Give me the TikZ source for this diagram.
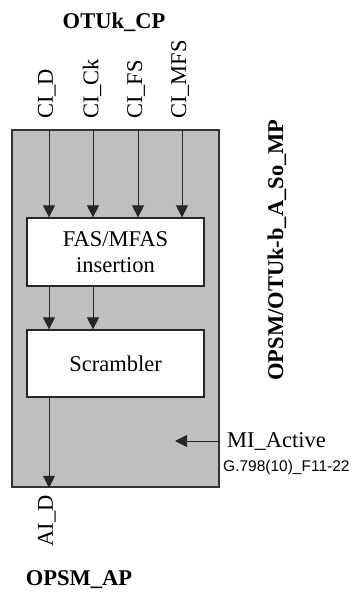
\documentclass[tikz,border=0pt]{standalone}
\usepackage{fontspec}
\setmainfont{Liberation Serif}
\newfontfamily\helvfont{Liberation Sans}
\usetikzlibrary{arrows.meta, positioning}

\begin{document}
\begin{tikzpicture}[
        x=1pt, y=-1pt,
        font=\fontsize{22.5}{26}\selectfont,
        frame/.style={rectangle, draw=black!80, line width=1.5pt, fill=black!25, minimum width=207pt, minimum height=357pt, inner sep=0pt},
        box/.style={rectangle, draw=black!85, line width=1.2pt, fill=white, align=center, minimum width=177pt, minimum height=68pt, inner sep=0pt},
        sig/.style={rotate=90, inner sep=0pt},
        title/.style={font=\fontsize{22.5}{26}\selectfont\bfseries, inner sep=0pt},
        arrow/.style={-{Triangle[length=12pt, width=12pt]}, line width=0.9pt, draw=black!85}
    ]
        \useasboundingbox (0,0) rectangle (354,593);

        \node[frame] (frame) at (115.5,308.5) {};
        \node[box] (fas) at (115.5,252) {FAS/MFAS\\insertion};
        \node[box, minimum height=67pt] (scr) at (115.5,363.5) {Scrambler};

        \node[title] (cp) at (114,22) {OTUk\_CP};
        \node[title] (ap) at (79,580) {OPSM\_AP};
        \node[title, rotate=90] (mp) at (277,250) {OPSM/OTUk-b\_A\_So\_MP};

        % input signals
        \node[sig, anchor=west] (cid) at (47,119) {CI\_D};
        \node[sig, anchor=west] (cick) at (92,119) {CI\_Ck};
        \node[sig, anchor=west] (cifs) at (136,119) {CI\_FS};
        \node[sig, anchor=west] (cimfs) at (180,119) {CI\_MFS};
        \node[sig, anchor=east] (aid) at (47,495) {AI\_D};

        \node[anchor=west, inner sep=0pt] (mi) at (227,441) {MI\_Active};
        \node[anchor=west, inner sep=0pt, font=\helvfont\fontsize{15.5}{18}\selectfont] (fig) at (223,467) {G.798(10)\_F11-22};
        \coordinate (mitip) at (175,441);

        \draw[arrow] ([xshift=2pt]cid.west |- frame.north) -- ([xshift=2pt]cid.west |- fas.north);
        \draw[arrow] ([xshift=1pt]cick.west |- frame.north) -- ([xshift=1pt]cick.west |- fas.north);
        \draw[arrow] ([xshift=2pt]cifs.west |- frame.north) -- ([xshift=2pt]cifs.west |- fas.north);
        \draw[arrow] ([xshift=2pt]cimfs.west |- frame.north) -- ([xshift=2pt]cimfs.west |- fas.north);
        \draw[arrow] ([xshift=2pt]cid.west |- fas.south) -- ([xshift=2pt]cid.west |- scr.north);
        \draw[arrow] ([xshift=1pt]cick.west |- fas.south) -- ([xshift=1pt]cick.west |- scr.north);
        \draw[arrow] ([xshift=2pt]aid.east |- scr.south) -- ([xshift=2pt]aid.east |- frame.south);
        \draw[arrow] (frame.east |- mi.west) -- (mitip);
    \end{tikzpicture}
\end{document}
